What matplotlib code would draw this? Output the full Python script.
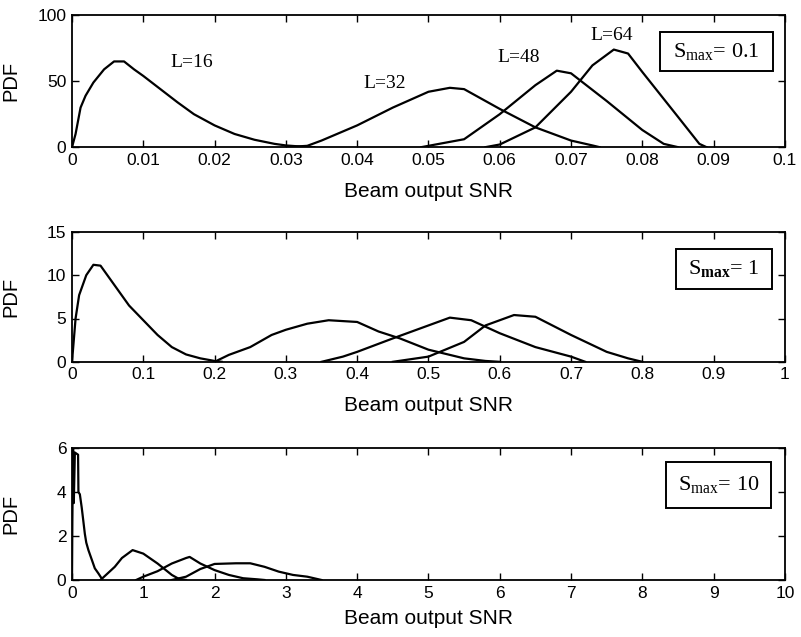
import matplotlib.pyplot as plt
from matplotlib.patches import Rectangle

plt.rcParams['font.family'] = ['Liberation Sans', 'DejaVu Sans']
plt.rcParams['mathtext.fontset'] = 'custom'
plt.rcParams['mathtext.rm'] = 'Liberation Serif'
plt.rcParams['mathtext.bf'] = 'Liberation Serif:bold'

# --- Smax = 0.1 ---
s01_L16_x = [0, 0.0005, 0.0012, 0.0019, 0.003, 0.0045, 0.0059, 0.0073, 0.0087, 0.010, 0.0124,
             0.0148, 0.0171, 0.020, 0.0228, 0.0256, 0.0284, 0.030, 0.032, 0.034]
s01_L16_y = [0, 10, 30, 39, 49, 59, 65, 65, 59, 54, 44, 34, 25, 16.5, 10, 5.6, 2.5, 1.3, 0.5, 0]
s01_L32_x = [0.030, 0.033, 0.035, 0.040, 0.045, 0.050, 0.053, 0.055, 0.060, 0.065, 0.070, 0.073, 0.074]
s01_L32_y = [0, 1, 5, 16.5, 30, 42, 45, 44, 29, 15, 5, 1.3, 0]
s01_L48_x = [0.049, 0.050, 0.055, 0.060, 0.065, 0.068, 0.070, 0.075, 0.080, 0.083, 0.085]
s01_L48_y = [0, 1, 6, 25, 47, 58, 56, 35, 13, 2.5, 0]
s01_L64_x = [0.058, 0.060, 0.065, 0.070, 0.073, 0.076, 0.078, 0.080, 0.085, 0.088, 0.089]
s01_L64_y = [0, 2, 15, 42, 62, 74, 71, 57, 23, 2.5, 0]

# --- Smax = 1 ---
s1_L16_x = [0, 0.005, 0.01, 0.02, 0.03, 0.04, 0.06, 0.08, 0.10, 0.12, 0.14, 0.16, 0.18, 0.20, 0.21]
s1_L16_y = [0, 5.0, 7.7, 10.0, 11.2, 11.1, 8.8, 6.5, 4.8, 3.1, 1.7, 0.85, 0.4, 0.1, 0]
s1_L32_x = [0.20, 0.22, 0.25, 0.28, 0.30, 0.33, 0.36, 0.40, 0.43, 0.46, 0.50, 0.55, 0.58, 0.60]
s1_L32_y = [0, 0.8, 1.7, 3.1, 3.7, 4.4, 4.8, 4.6, 3.5, 2.7, 1.4, 0.4, 0.1, 0]
s1_L48_x = [0.35, 0.38, 0.40, 0.45, 0.50, 0.53, 0.56, 0.60, 0.65, 0.70, 0.72]
s1_L48_y = [0, 0.6, 1.15, 2.7, 4.2, 5.1, 4.8, 3.3, 1.7, 0.6, 0]
s1_L64_x = [0.45, 0.50, 0.55, 0.58, 0.62, 0.65, 0.70, 0.75, 0.78, 0.80]
s1_L64_y = [0, 0.6, 2.3, 4.2, 5.4, 5.2, 3.1, 1.15, 0.4, 0]

# --- Smax = 10 ---
s10_L16_x = [0, 0.005, 0.015, 0.025, 0.04, 0.085, 0.09, 0.11, 0.136, 0.16, 0.18, 0.20, 0.23,
             0.28, 0.32, 0.37, 0.42]
s10_L16_y = [0, 2.7, 6.0, 3.5, 5.8, 5.7, 4.0, 3.9, 3.3, 2.65, 2.1, 1.7, 1.36, 0.9, 0.53, 0.3, 0.05]
s10_L32_x = [0.40, 0.60, 0.70, 0.85, 1.00, 1.20, 1.40, 1.50, 1.60]
s10_L32_y = [0, 0.6, 1.0, 1.36, 1.2, 0.75, 0.23, 0.05, 0]
s10_L48_x = [0.90, 1.00, 1.20, 1.40, 1.60, 1.65, 1.80, 2.00, 2.20, 2.40, 2.60, 2.70]
s10_L48_y = [0, 0.15, 0.4, 0.75, 1.0, 1.05, 0.75, 0.45, 0.23, 0.08, 0.03, 0]
s10_L64_x = [1.40, 1.60, 1.80, 2.00, 2.30, 2.50, 2.70, 2.90, 3.10, 3.30, 3.50]
s10_L64_y = [0, 0.15, 0.5, 0.73, 0.76, 0.76, 0.6, 0.38, 0.23, 0.15, 0]

panels = [
    dict(curves=[(s01_L16_x, s01_L16_y), (s01_L32_x, s01_L32_y),
                 (s01_L48_x, s01_L48_y), (s01_L64_x, s01_L64_y)],
         xmax=0.1, xticks=[i / 100 for i in range(11)],
         xlabels=['0'] + ['0.0%d' % i for i in range(1, 10)] + ['0.1'],
         ymax=100, yticks=[0, 50, 100], labelpad=10.5,
         smax=r'S$_{\mathrm{max}}$= 0.1', box=(0.825, 0.576, 0.158, 0.295)),
    dict(curves=[(s1_L16_x, s1_L16_y), (s1_L32_x, s1_L32_y),
                 (s1_L48_x, s1_L48_y), (s1_L64_x, s1_L64_y)],
         xmax=1, xticks=[i / 10 for i in range(11)],
         xlabels=['0'] + ['0.%d' % i for i in range(1, 10)] + ['1'],
         ymax=15, yticks=[0, 5, 10, 15], labelpad=9.5,
         smax=r'S$_{\mathbf{max}}$= 1', box=(0.847, 0.56, 0.135, 0.31)),
    dict(curves=[(s10_L16_x, s10_L16_y), (s10_L32_x, s10_L32_y),
                 (s10_L48_x, s10_L48_y), (s10_L64_x, s10_L64_y)],
         xmax=10, xticks=list(range(11)), xlabels=[str(i) for i in range(11)],
         ymax=6, yticks=[0, 2, 4, 6], labelpad=6,
         smax=r'S$_{\mathrm{max}}$= 10', box=(0.833, 0.545, 0.147, 0.349)),
]

fig = plt.figure(figsize=(8.01, 6.37), dpi=100)
bottoms = [0.769, 0.432, 0.0895]
heights = [0.207, 0.204, 0.207]

for p, b, h in zip(panels, bottoms, heights):
    ax = fig.add_axes([0.0899, b, 0.890, h])
    for x, y in p['curves']:
        ax.plot(x, y, color='black', linewidth=1.6)
    ax.set_xlim(0, p['xmax'])
    ax.set_ylim(0, p['ymax'])
    ax.set_xticks(p['xticks'])
    ax.set_xticklabels(p['xlabels'])
    ax.set_yticks(p['yticks'])
    ax.tick_params(direction='in', top=True, right=True, length=5, width=1,
                   labelsize=12.5, pad=4)
    for s in ax.spines.values():
        s.set_linewidth(1.3)
    ax.set_xlabel('Beam output SNR', fontsize=15, labelpad=p['labelpad'])
    ax.set_ylabel('PDF', fontsize=14.5)
    ax.yaxis.set_label_coords(-0.072, 0.5)
    bx, by, bw, bh = p['box']
    ax.add_patch(Rectangle((bx, by), bw, bh, transform=ax.transAxes, fill=False,
                           edgecolor='black', linewidth=1.4))
    ax.text(bx + bw / 2, by + bh / 2, p['smax'], transform=ax.transAxes,
            ha='center', va='center', fontsize=16, family='Liberation Serif')
    if p is panels[0]:
        top_ax = ax

# curve labels in the first panel
labels = ['L=16', 'L=32', 'L=48', 'L=64']
label_x = [0.0168, 0.0439, 0.0627, 0.0757]
label_y = [64, 48, 68, 85]
for t, lx, ly in zip(labels, label_x, label_y):
    top_ax.text(lx, ly, t, ha='center', va='center', fontsize=14, family='Liberation Serif')

fig.savefig('out.png', dpi=100)
